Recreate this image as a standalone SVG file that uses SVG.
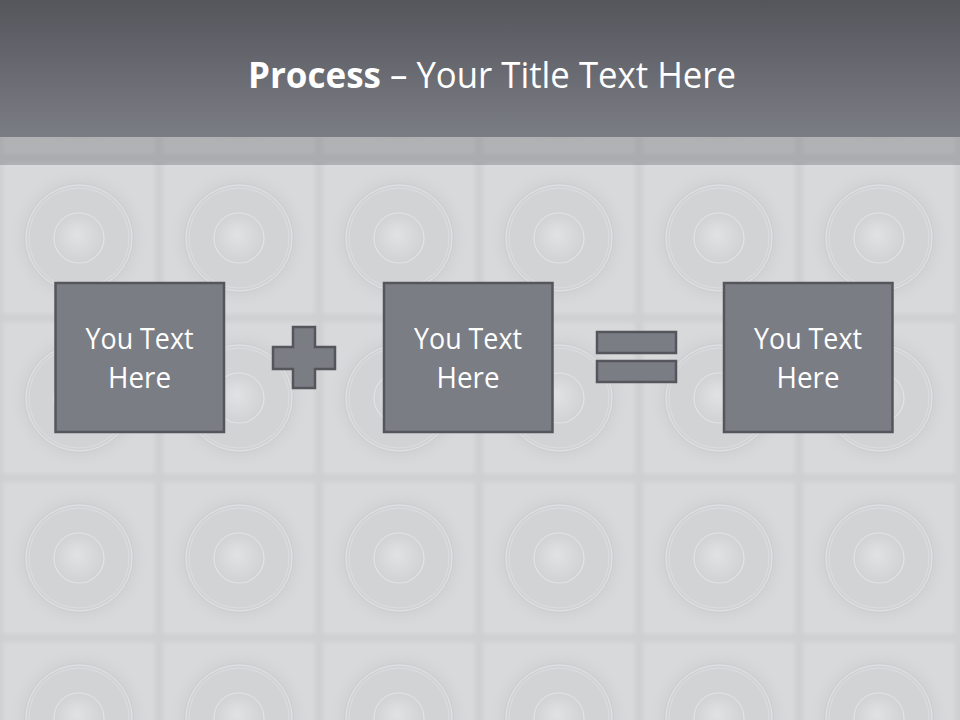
<svg xmlns="http://www.w3.org/2000/svg" width="960" height="720" viewBox="0 0 960 720">
  <style>
    .box { fill: #7b7d85; stroke: #55565c; stroke-width: 2.5; }
    .sign { fill: #7b7d85; stroke: #55565c; stroke-width: 2.5; stroke-linejoin: miter; }
    .lbl { font-family: "Open Sans", "Liberation Sans", sans-serif; font-size: 29px; fill: #ffffff; text-anchor: middle; }
    .title { font-family: "Open Sans", "Liberation Sans", sans-serif; font-size: 36px; fill: #ffffff; }
  </style>
  <defs>
    <linearGradient id="hdr" x1="0" y1="0" x2="0" y2="1">
      <stop offset="0" stop-color="#55565c"/>
      <stop offset="1" stop-color="#7b7d85"/>
    </linearGradient>
    <radialGradient id="outer" cx="0.5" cy="0.5" r="0.5">
      <stop offset="0" stop-color="#d2d3d5"/>
      <stop offset="0.78" stop-color="#d2d3d5"/>
      <stop offset="1" stop-color="#d8d9db" stop-opacity="0"/>
    </radialGradient>
    <radialGradient id="dome" cx="0.5" cy="0.5" r="0.5" fx="0.45" fy="0.42">
      <stop offset="0" stop-color="#e1e2e4"/>
      <stop offset="1" stop-color="#d1d2d4"/>
    </radialGradient>
    <filter id="soft" x="-5%" y="-5%" width="110%" height="110%">
      <feGaussianBlur stdDeviation="2"/>
    </filter>
    <pattern id="tiles" patternUnits="userSpaceOnUse" x="-1" y="-2" width="160" height="160">
      <rect x="0" y="0" width="160" height="160" fill="#cfd0d2"/>
      <rect x="4" y="4" width="152" height="152" rx="3" fill="#d8d9db" filter="url(#soft)"/>
      <circle cx="80" cy="80" r="72" fill="url(#outer)"/>
      <circle cx="80" cy="80" r="54.5" fill="none" stroke="#cdced0" stroke-width="1"/>
      <circle cx="80" cy="80" r="53" fill="none" stroke="#e2e3e5" stroke-width="1"/>
      <circle cx="80" cy="80" r="50" fill="none" stroke="#dcdde0" stroke-width="1"/>
      <circle cx="80" cy="80" r="25" fill="url(#dome)" stroke="#e2e3e5" stroke-width="1.2"/>
    </pattern>
  </defs>

  <!-- background -->
  <rect x="0" y="0" width="960" height="720" fill="url(#tiles)"/>
  <rect x="0" y="137" width="960" height="28" fill="#5e5f65" opacity="0.32"/>
  <rect x="0" y="0" width="960" height="137" fill="url(#hdr)"/>

  <!-- title -->
  <g id="title">
    <text class="title" x="248" y="88" font-weight="bold" textLength="133" lengthAdjust="spacingAndGlyphs">Process</text>
    <text class="title" x="390" y="88" textLength="346" lengthAdjust="spacingAndGlyphs">– Your Title Text Here</text>
  </g>

  <!-- connectors (operators) -->
  <g id="connectors">
    <g id="plus">
      <path class="sign" d="M293,327 H315 V347 H335 V369 H315 V388 H293 V369 H273 V347 H293 Z"/>
    </g>
    <g id="equals">
      <rect class="sign" x="597" y="332" width="79" height="21"/>
      <rect class="sign" x="597" y="361" width="79" height="21"/>
    </g>
  </g>

  <g id="node1">
    <rect class="box" x="55.5" y="283" width="168.5" height="149"/>
    <text class="lbl" x="139.5" y="349" textLength="108" lengthAdjust="spacingAndGlyphs">You Text</text>
    <text class="lbl" x="139.5" y="388" textLength="63" lengthAdjust="spacingAndGlyphs">Here</text>
  </g>
  <g id="node2">
    <rect class="box" x="384" y="283" width="168.5" height="149"/>
    <text class="lbl" x="468" y="349" textLength="108" lengthAdjust="spacingAndGlyphs">You Text</text>
    <text class="lbl" x="468" y="388" textLength="63" lengthAdjust="spacingAndGlyphs">Here</text>
  </g>
  <g id="node3">
    <rect class="box" x="724" y="283" width="168.5" height="149"/>
    <text class="lbl" x="808" y="349" textLength="108" lengthAdjust="spacingAndGlyphs">You Text</text>
    <text class="lbl" x="808" y="388" textLength="63" lengthAdjust="spacingAndGlyphs">Here</text>
  </g>
</svg>
